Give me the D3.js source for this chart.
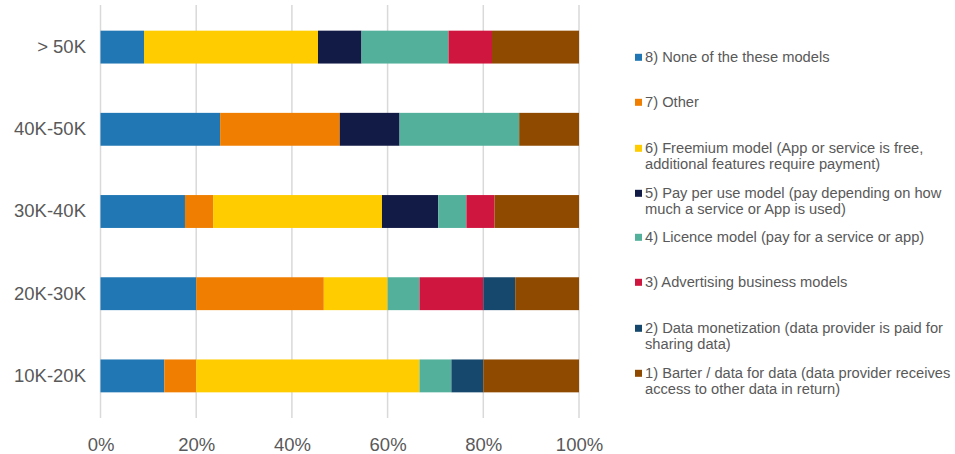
<!DOCTYPE html>
<html><head><meta charset="utf-8">
<script src="https://cdn.jsdelivr.net/npm/d3@7"></script>
<style>body{margin:0;background:#fff;} svg{display:block;font-family:"Liberation Sans",Arial,sans-serif;}</style>
</head><body>
<svg id="chart" width="955" height="454"></svg>
<script>
const categories = ["> 50K", "40K-50K", "30K-40K", "20K-30K", "10K-20K"];
const seriesNames = [
  "8) None of the these models",
  "7) Other",
  "6) Freemium model (App or service is free, additional features require payment)",
  "5) Pay per use model (pay depending on how much a service or App is used)",
  "4) Licence model (pay for a service or app)",
  "3) Advertising business models",
  "2) Data monetization (data provider is paid for sharing data)",
  "1) Barter / data for data (data provider receives access to other data in return)"
];
const legendLines = [
  ["8) None of the these models"],
  ["7) Other"],
  ["6) Freemium model (App or service is free,", "additional features require payment)"],
  ["5) Pay per use model (pay depending on how", "much a service or App is used)"],
  ["4) Licence model (pay for a service or app)"],
  ["3) Advertising business models"],
  ["2) Data monetization (data provider is paid for", "sharing data)"],
  ["1) Barter / data for data (data provider receives", "access to other data in return)"]
];
const colors = ["#2077B4", "#F07E00", "#FFCC00", "#121A46", "#52B09B", "#CF163F", "#16486E", "#8F4A00"];
// values per series, in category order (> 50K, 40K-50K, 30K-40K, 20K-30K, 10K-20K), percent
const none8      = [9.09, 25.0, 17.65, 20.0, 13.33];
const other7     = [0,    25.0,  5.88, 26.67, 6.67];
const freemium6  = [36.36, 0,   35.29, 13.33, 46.67];
const payPerUse5 = [9.09, 12.5, 11.76, 0,     0];
const licence4   = [18.18, 25.0, 5.88, 6.67,  6.67];
const advert3    = [9.09, 0,     5.88, 13.33, 0];
const dataMon2   = [0,    0,     0,    6.67,  6.67];
const barter1    = [18.18, 12.5, 17.65, 13.33, 20.0];
const xTicks = [0, 20, 40, 60, 80, 100];

const seriesValues = [none8, other7, freemium6, payPerUse5, licence4, advert3, dataMon2, barter1];
const rows = categories.map((c, i) => {
  const r = {cat: c};
  seriesValues.forEach((s, k) => r["s" + k] = s[i]);
  return r;
});
const keys = seriesValues.map((_, k) => "s" + k);
const stack = d3.stack().keys(keys).offset(d3.stackOffsetExpand)(rows);

const svg = d3.select("#chart");
const x = d3.scaleLinear().domain([0, 1]).range([100.5, 579]);
const y = d3.scaleBand().domain(categories).range([6, 417]).paddingInner(0.6).paddingOuter(0.3);
const textColor = "#595959";

// gridlines
svg.append("g").selectAll("line").data(xTicks).join("line")
  .attr("x1", d => x(d / 100)).attr("x2", d => x(d / 100))
  .attr("y1", 5).attr("y2", 418)
  .attr("stroke", "#d9d9d9").attr("stroke-width", 1.5);

// bars
svg.append("g").selectAll("g").data(stack).join("g")
  .attr("fill", (d, i) => colors[i])
  .selectAll("rect").data(d => d).join("rect")
  .attr("x", d => x(d[0]))
  .attr("width", d => Math.max(0, x(d[1]) - x(d[0])))
  .attr("y", d => y(d.data.cat))
  .attr("height", y.bandwidth());

// x axis
const xAxis = svg.append("g").attr("transform", "translate(0,418)")
  .call(d3.axisBottom(x).tickValues(xTicks.map(t => t / 100)).tickFormat((d, i) => xTicks[i] + "%").tickSize(0).tickPadding(20));
xAxis.select(".domain").remove();
xAxis.selectAll("text").attr("fill", textColor).style("font-size", "18.5px").style("font-family", "Liberation Sans, Arial, sans-serif");

// y axis
const yAxis = svg.append("g").attr("transform", "translate(86,0)")
  .call(d3.axisLeft(y).tickSize(0).tickPadding(0));
yAxis.select(".domain").remove();
yAxis.selectAll("text").attr("fill", textColor).style("font-size", "18.5px").style("font-family", "Liberation Sans, Arial, sans-serif");

// legend
const legendY = [57.3, 102.3, 148.3, 193.3, 237.3, 282.3, 328.3, 373.3];
const lg = svg.append("g").selectAll("g").data(legendLines).join("g")
  .attr("transform", (d, i) => `translate(635,${legendY[i]})`);
lg.append("rect").attr("x", 0).attr("y", -3.5).attr("width", 7).attr("height", 7)
  .attr("fill", (d, i) => colors[i]);
lg.each(function(lines) {
  const t = d3.select(this).append("text")
    .attr("fill", textColor).style("font-size", "14.7px");
  lines.forEach((ln, j) => t.append("tspan").attr("x", 10).attr("y", j * 16 + 5).text(ln));
});
</script>
</body></html>
